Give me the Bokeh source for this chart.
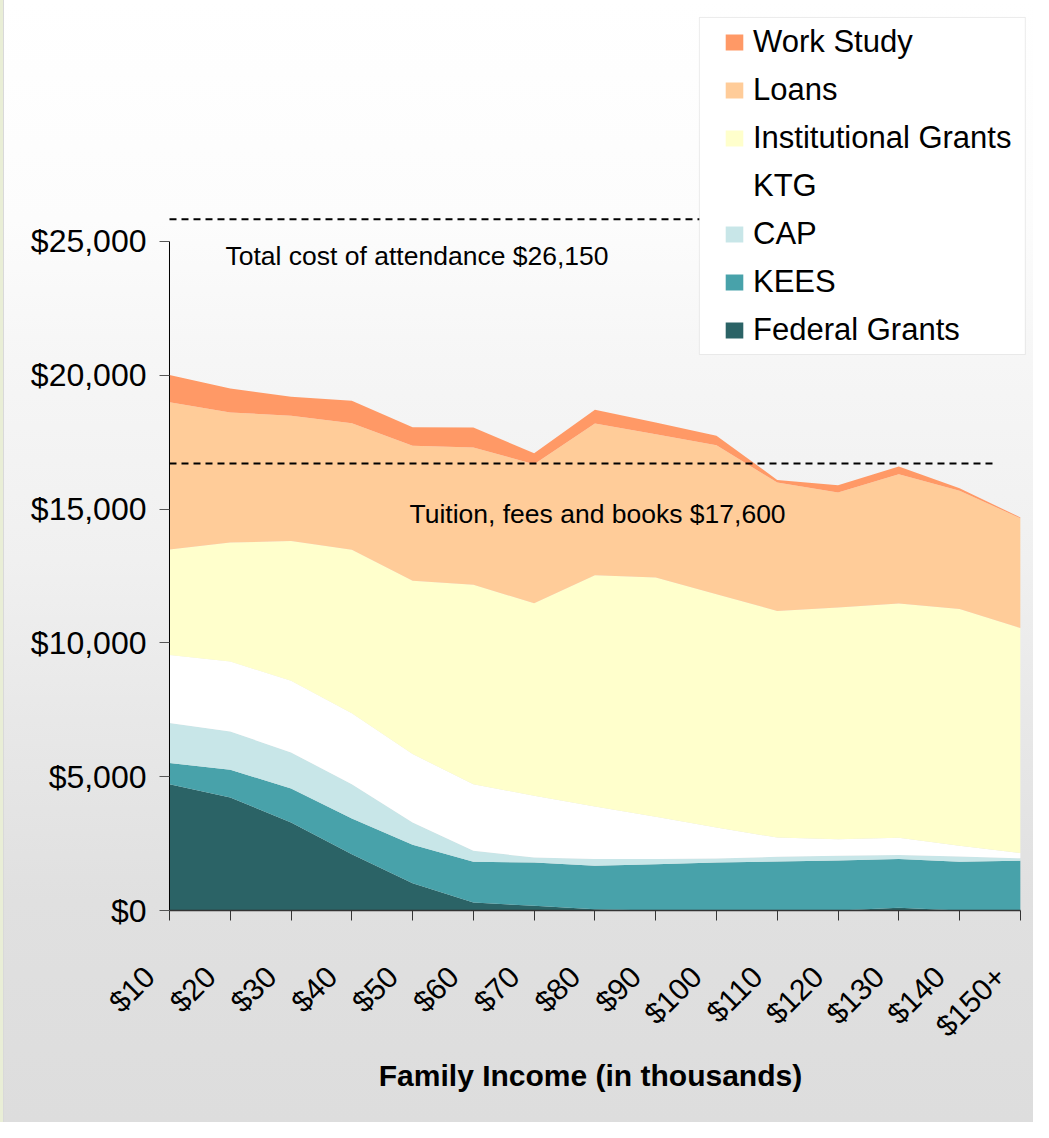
from math import pi
from bokeh.plotting import figure
from bokeh.models import (Legend, LegendItem, FixedTicker, NumeralTickFormatter,
                          BoxAnnotation, ColumnDataSource, Range1d, LinearAxis)
from bokeh.embed import file_html
from bokeh.resources import INLINE
from bokeh.core.properties import value

# ---------------- data ----------------
categories = ["$10", "$20", "$30", "$40", "$50", "$60", "$70", "$80",
              "$90", "$100", "$110", "$120", "$130", "$140", "$150+"]
federal_grants = [4720, 4220, 3290, 2100, 1020, 300, 175, 50, 0, 0, 0, 0, 100, 0, 0]
kees = [790, 1040, 1270, 1340, 1435, 1520, 1620, 1620, 1730, 1790, 1830, 1870, 1820, 1820, 1860]
cap = [1500, 1430, 1345, 1280, 835, 410, 185, 250, 190, 150, 175, 175, 150, 200, 90]
ktg = [2540, 2615, 2680, 2655, 2555, 2490, 2305, 1970, 1580, 1160, 720, 620, 650, 400, 200]
institutional_grants = [3940, 4445, 5220, 6105, 6480, 7450, 7200, 8635, 8945, 8720, 8470, 8660, 8755, 8845, 8405]
loans = [5505, 4860, 4685, 4730, 5045, 5130, 5195, 5670, 5355, 5570, 4795, 4295, 4830, 4425, 4100]
work_study = [1020, 895, 710, 835, 685, 745, 410, 515, 435, 350, 100, 275, 290, 85, 35]

series_names = ["Federal Grants", "KEES", "CAP", "KTG", "Institutional Grants", "Loans", "Work Study"]
series_keys = ["fed", "kees", "cap", "ktg", "inst", "loans", "ws"]
series_colors = ["#2B6366", "#48A2AA", "#C8E6E8", "#FFFFFF", "#FFFFCC", "#FFCC99", "#FF9966"]

total_cost_line = 25830
tuition_line = 16700
total_cost_text = "Total cost of attendance $26,150"
tuition_text = "Tuition, fees and books $17,600"
y_ticks = [0, 5000, 10000, 15000, 20000, 25000]
x_title = "Family Income (in thousands)"

FONT = "Liberation Sans"

xs = list(range(len(categories)))
src = ColumnDataSource(dict(x=xs, fed=federal_grants, kees=kees, cap=cap, ktg=ktg,
                            inst=institutional_grants, loans=loans, ws=work_study))

bg = ("linear-gradient(to right, #e9eed6 0px, #e9eed6 3px, #d9d9d9 3px, #d9d9d9 4px, transparent 4px), "
      "linear-gradient(to bottom, #ffffff 0px, #fcfcfc 220px, #f6f6f6 360px, #f0f0f0 560px, "
      "#e8e8e8 720px, #e0e0e0 900px, #dddddd 100%)")

n = len(categories)
px_per_unit = 60.78
pad_px = 21
x_start = -pad_px / px_per_unit
x_end = n - 1 + 0.2
frame_w = round((x_end - x_start) * px_per_unit)
p = figure(frame_width=frame_w, frame_height=900,
           min_border_left=169 - pad_px, min_border_right=1, min_border_top=10, min_border_bottom=212,
           x_range=Range1d(x_start, x_end), y_range=Range1d(0, 33632),
           output_backend="svg", toolbar_location=None,
           background_fill_color=None, border_fill_color=None, outline_line_color=None,
           styles={"background": bg})
p.xgrid.visible = False
p.ygrid.visible = False

renderers = p.varea_stack(stackers=series_keys, x="x", color=series_colors, source=src)

# value axis line at the first category
p.segment(x0=[0], y0=[y_ticks[0]], x1=[0], y1=[y_ticks[-1]], line_color="black", line_width=1)

# reference lines
p.line(x=[0, 13.62], y=[total_cost_line, total_cost_line], line_dash="7 5",
       line_width=2, line_color="black")
p.line(x=[0, 13.62], y=[tuition_line, tuition_line], line_dash="7 5",
       line_width=2, line_color="black")

p.text(x=[0.921], y=[24440], text=[total_cost_text], text_font=value(FONT),
       text_font_size="26.5px", text_baseline="middle", text_align="left", text_color="black")
p.text(x=[3.948], y=[14800], text=[tuition_text], text_font=value(FONT),
       text_font_size="26.5px", text_baseline="middle", text_align="left", text_color="black")

# legend box
box = BoxAnnotation(left=8.719, right=14.082, top=33371, bottom=20777,
                    fill_color="white", fill_alpha=1.0, line_color="#c0c0c0", line_width=1)
p.add_layout(box)

items = [LegendItem(label=series_names[i], renderers=[renderers[i]]) for i in range(len(series_names) - 1, -1, -1)]
legend = Legend(items=items, location=(554 + pad_px, 562), padding=0, margin=0, spacing=12,
                glyph_width=22, glyph_height=20, label_standoff=8,
                label_text_font=FONT, label_text_font_size="31px", label_height=36,
                label_text_color="black",
                border_line_alpha=0, background_fill_alpha=0)
p.add_layout(legend, "center")

# y axis: ticks reach from 10px left of the value-axis line up to it
yax = p.yaxis[0]
yax.ticker = FixedTicker(ticks=y_ticks)
yax.formatter = NumeralTickFormatter(format="$0,0")
yax.major_label_text_font = FONT
yax.major_label_text_font_size = "32px"
yax.major_label_text_color = "black"
yax.major_tick_out = -(pad_px - 10)
yax.major_tick_in = pad_px
yax.minor_tick_line_color = None
yax.major_tick_line_color = "#555555"
yax.axis_line_color = None
yax.major_label_standoff = 2

# x axis: line and ticks at each category
xax = p.xaxis[0]
xax.ticker = FixedTicker(ticks=xs)
xax.bounds = (0, n - 1)
xax.major_label_overrides = {i: "" for i in xs}
xax.major_label_text_font_size = "1px"
xax.major_tick_out = 10
xax.major_tick_in = 0
xax.minor_tick_line_color = None
xax.major_tick_line_color = "#333333"
xax.axis_line_color = "#333333"
xax.axis_line_width = 1.5
xax.major_label_standoff = 0

# category labels: second axis, nudged left like the original slanted labels
label_shift = 20 / px_per_unit
p.extra_x_ranges = {"labels": Range1d(x_start + label_shift, x_end + label_shift)}
lab_ax = LinearAxis(x_range_name="labels", ticker=FixedTicker(ticks=xs),
                    major_label_overrides={i: c for i, c in zip(xs, categories)},
                    major_label_orientation=pi / 4,
                    major_label_text_font=FONT, major_label_text_font_size="30px",
                    major_label_text_color="black",
                    axis_line_color=None, major_tick_line_color=None, minor_tick_line_color=None,
                    major_tick_out=0, major_tick_in=0, major_label_standoff=51,
                    axis_label=x_title, axis_label_text_font=FONT,
                    axis_label_text_font_size="30px", axis_label_text_font_style="bold",
                    axis_label_text_color="black", axis_label_standoff=2)
p.add_layout(lab_ax, "below")

open("out.html", "w").write(file_html(p, INLINE))
